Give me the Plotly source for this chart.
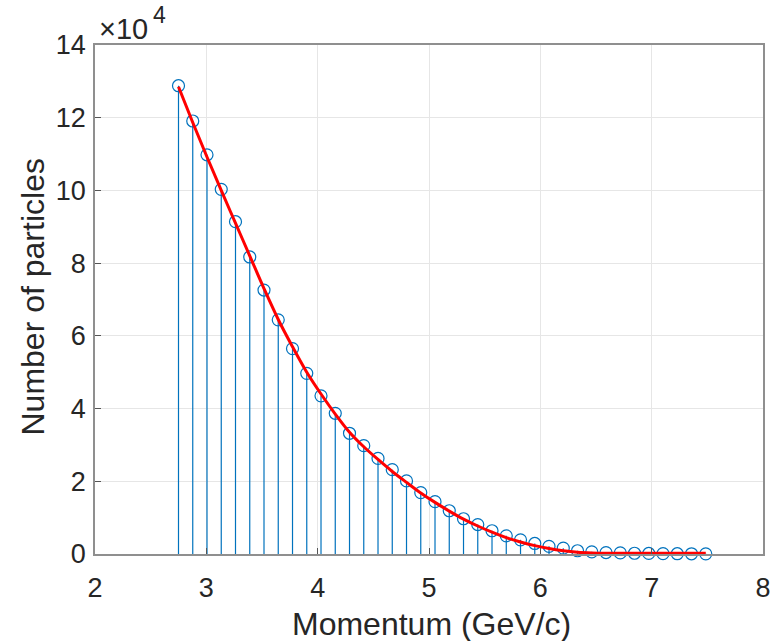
import plotly.graph_objects as go

# Data
momentum = [2.75 + 0.128 * i for i in range(38)]
counts = [128800, 119100, 109800, 100300, 91400, 81700, 72600, 64400, 56500, 49700,
          43500, 38700, 33200, 29800, 26300, 23200, 20100, 16900, 14400, 11900,
          9700, 8100, 6400, 5000, 3900, 2900, 2100, 1600, 900, 600,
          400, 300, 200, 150, 100, 80, 60, 50]
fit = [128500, 118700, 109200, 100000, 91000, 82000, 73000, 64500, 57000, 50000,
       44000, 38500, 33500, 29500, 26000, 22700, 19700, 16800, 14200, 11800,
       9600, 7700, 6000, 4500, 3300, 2300, 1500, 900, 500, 300,
       200, 200, 200, 200, 200, 200, 200, 200]
ytick_vals = [0, 20000, 40000, 60000, 80000, 100000, 120000, 140000]
ytick_text = ["0", "2", "4", "6", "8", "10", "12", "14"]
xtick_vals = [2, 3, 4, 5, 6, 7, 8]
x_title = "Momentum (GeV/c)"
y_title = "Number of particles"

FONT = "Liberation Sans, Arial, Helvetica, sans-serif"
AXC = "#8f8f8f"
TXT = "#262626"

fig = go.Figure()
fig.add_trace(go.Scatter(
    x=momentum, y=counts, mode="markers",
    marker=dict(symbol="circle-open", size=12, color="#0072BD", line=dict(width=1.2)),
    error_y=dict(type="data", symmetric=False, array=[0] * len(counts),
                 arrayminus=counts, width=0, thickness=1.2, color="#0072BD"),
    cliponaxis=False, showlegend=False, hoverinfo="skip",
))
fig.add_trace(go.Scatter(
    x=momentum, y=fit, mode="lines", line=dict(color="#FF0000", width=3, shape="spline"),
    cliponaxis=False, showlegend=False, hoverinfo="skip",
))

fig.update_layout(
    width=776, height=641,
    margin=dict(l=95, r=13, t=45, b=87, autoexpand=False),
    paper_bgcolor="white", plot_bgcolor="white",
    font=dict(family=FONT, color=TXT),
    xaxis=dict(range=[2, 8], tickvals=xtick_vals, showgrid=True, gridcolor="#e6e6e6",
               gridwidth=1, zeroline=False, showline=True, linecolor=AXC, linewidth=1.5,
               mirror=True, ticks="inside", ticklen=6, tickcolor="#555555",
               ticklabelstandoff=9, automargin=False,
               tickfont=dict(size=27, color=TXT)),
    yaxis=dict(range=[0, 140000], tickvals=ytick_vals, ticktext=ytick_text, showgrid=True,
               gridcolor="#e6e6e6", gridwidth=1, zeroline=False, showline=True,
               linecolor=AXC, linewidth=1.5, mirror=True, ticks="inside", ticklen=6,
               ticklabelstandoff=2, automargin=False,
               tickcolor="#555555", tickfont=dict(size=27, color=TXT)),
    annotations=[
        dict(text=x_title, xref="paper", yref="paper", x=0.5, y=0, xshift=2, yshift=-70,
             xanchor="center", yanchor="middle", showarrow=False,
             font=dict(size=32, color=TXT, family=FONT)),
        dict(text=y_title, xref="paper", yref="paper", x=0, y=0.5, xshift=-63, yshift=2,
             textangle=-90, xanchor="center", yanchor="middle", showarrow=False,
             font=dict(size=32, color=TXT, family=FONT)),
        dict(text="×10", xref="paper", yref="paper", x=0, y=1, xshift=2, yshift=16,
             xanchor="left", yanchor="middle", showarrow=False,
             font=dict(size=29, color=TXT, family=FONT)),
        dict(text="4", xref="paper", yref="paper", x=0, y=1, xshift=56, yshift=30,
             xanchor="left", yanchor="middle", showarrow=False,
             font=dict(size=23, color=TXT, family=FONT)),
    ],
)

fig.write_html(
    "out.html",
    config={"displayModeBar": False},
    post_script="document.body.style.margin='0';document.body.style.overflow='hidden';",
)
